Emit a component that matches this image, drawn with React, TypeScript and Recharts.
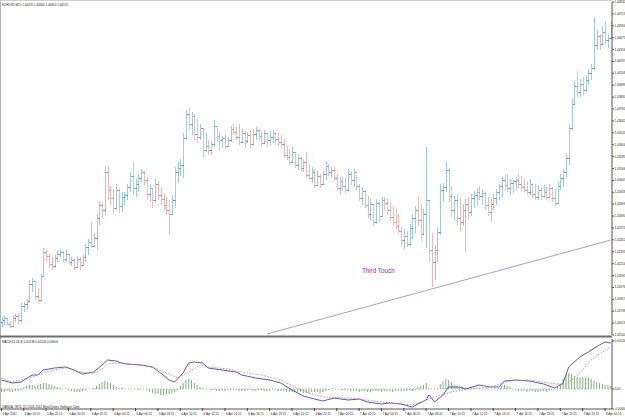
import { ComposedChart, Bar, Line, XAxis, YAxis, ReferenceLine, ReferenceDot } from 'recharts';

// EURUSD M15 bars, 5 Apr 18:15 -> 8 Apr 00:45
const opens = [
  1.4163, 1.4165, 1.4167, 1.4161, 1.4159, 1.4167, 1.4169, 1.4165, 1.4179, 1.4181,
  1.4184, 1.4201, 1.4204, 1.4189, 1.4185, 1.4209, 1.4233, 1.4229, 1.4221, 1.4219,
  1.4227, 1.4231, 1.4233, 1.4226, 1.4231, 1.4223, 1.4225, 1.4218, 1.4226, 1.4220,
  1.4228, 1.4238, 1.4243, 1.4239, 1.4247, 1.4267, 1.4280, 1.4275, 1.4313, 1.4295,
  1.4287, 1.4277, 1.4295, 1.4279, 1.4288, 1.4290, 1.4298, 1.4309, 1.4297, 1.4301,
  1.4307, 1.4313, 1.4305, 1.4291, 1.4297, 1.4285, 1.4301, 1.4290, 1.4286, 1.4280,
  1.4275, 1.4271, 1.4285, 1.4313, 1.4317, 1.4320, 1.4347, 1.4371, 1.4361, 1.4369,
  1.4351, 1.4348, 1.4357, 1.4335, 1.4339, 1.4335, 1.4341, 1.4359, 1.4349, 1.4345,
  1.4347, 1.4339, 1.4345, 1.4356, 1.4353, 1.4348, 1.4343, 1.4352, 1.4344, 1.4350,
  1.4341, 1.4351, 1.4355, 1.4349, 1.4342, 1.4352, 1.4345, 1.4348, 1.4352, 1.4346,
  1.4343, 1.4341, 1.4330, 1.4328, 1.4323, 1.4333, 1.4320, 1.4327, 1.4317, 1.4323,
  1.4310, 1.4307, 1.4313, 1.4300, 1.4309, 1.4301, 1.4311, 1.4319, 1.4313, 1.4315,
  1.4307, 1.4297, 1.4304, 1.4299, 1.4295, 1.4311, 1.4305, 1.4313, 1.4299, 1.4287,
  1.4294, 1.4280, 1.4271, 1.4281, 1.4263, 1.4282, 1.4269, 1.4285, 1.4282, 1.4275,
  1.4268, 1.4263, 1.4259, 1.4254, 1.4245, 1.4249, 1.4241, 1.4257, 1.4267, 1.4275,
  1.4265, 1.4251, 1.4271, 1.4285, 1.4235, 1.4223, 1.4235, 1.4253, 1.4295, 1.4298,
  1.4315, 1.4289, 1.4275, 1.4285, 1.4267, 1.4263, 1.4275, 1.4281, 1.4273, 1.4287,
  1.4290, 1.4293, 1.4289, 1.4292, 1.4280, 1.4273, 1.4281, 1.4287, 1.4293, 1.4299,
  1.4305, 1.4300, 1.4297, 1.4302, 1.4304, 1.4305, 1.4301, 1.4298, 1.4295, 1.4293,
  1.4301, 1.4291, 1.4288, 1.4295, 1.4289, 1.4293, 1.4288, 1.4297, 1.4287, 1.4282,
  1.4299, 1.4307, 1.4313, 1.4327, 1.4357, 1.4381, 1.4399, 1.4393, 1.4401, 1.4395,
  1.4405, 1.4412, 1.4417, 1.4440, 1.4449, 1.4441, 1.4453, 1.4445, 1.4447,
];

const highs = [
  1.4168, 1.4169, 1.4167, 1.4164, 1.4170, 1.4171, 1.4172, 1.4182, 1.4183, 1.4186,
  1.4205, 1.4207, 1.4202, 1.4197, 1.4211, 1.4237, 1.4236, 1.4231, 1.4228, 1.4230,
  1.4234, 1.4236, 1.4234, 1.4235, 1.4231, 1.4228, 1.4226, 1.4229, 1.4228, 1.4230,
  1.4241, 1.4246, 1.4263, 1.4251, 1.4271, 1.4284, 1.4283, 1.4318, 1.4319, 1.4299,
  1.4296, 1.4301, 1.4296, 1.4293, 1.4293, 1.4301, 1.4313, 1.4323, 1.4306, 1.4311,
  1.4316, 1.4314, 1.4308, 1.4301, 1.4296, 1.4306, 1.4304, 1.4298, 1.4291, 1.4288,
  1.4285, 1.4290, 1.4318, 1.4323, 1.4326, 1.4352, 1.4375, 1.4377, 1.4373, 1.4371,
  1.4366, 1.4361, 1.4356, 1.4352, 1.4345, 1.4344, 1.4365, 1.4357, 1.4353, 1.4349,
  1.4351, 1.4348, 1.4359, 1.4361, 1.4359, 1.4361, 1.4356, 1.4354, 1.4353, 1.4355,
  1.4356, 1.4358, 1.4356, 1.4354, 1.4355, 1.4351, 1.4354, 1.4355, 1.4351, 1.4352,
  1.4350, 1.4346, 1.4339, 1.4336, 1.4338, 1.4333, 1.4331, 1.4328, 1.4326, 1.4333,
  1.4321, 1.4318, 1.4316, 1.4314, 1.4311, 1.4314, 1.4324, 1.4321, 1.4318, 1.4318,
  1.4311, 1.4308, 1.4308, 1.4308, 1.4316, 1.4314, 1.4316, 1.4310, 1.4301, 1.4298,
  1.4296, 1.4289, 1.4286, 1.4281, 1.4286, 1.4283, 1.4288, 1.4288, 1.4287, 1.4283,
  1.4278, 1.4276, 1.4271, 1.4258, 1.4256, 1.4254, 1.4261, 1.4271, 1.4279, 1.4289,
  1.4281, 1.4276, 1.4338, 1.4285, 1.4252, 1.4240, 1.4257, 1.4301, 1.4302, 1.4323,
  1.4317, 1.4299, 1.4289, 1.4291, 1.4287, 1.4281, 1.4286, 1.4288, 1.4291, 1.4294,
  1.4297, 1.4299, 1.4296, 1.4293, 1.4288, 1.4286, 1.4291, 1.4296, 1.4301, 1.4308,
  1.4311, 1.4311, 1.4306, 1.4305, 1.4308, 1.4311, 1.4309, 1.4306, 1.4304, 1.4306,
  1.4301, 1.4301, 1.4299, 1.4298, 1.4300, 1.4298, 1.4301, 1.4298, 1.4296, 1.4303,
  1.4311, 1.4316, 1.4331, 1.4361, 1.4386, 1.4403, 1.4414, 1.4406, 1.4408, 1.4409,
  1.4416, 1.4421, 1.4468, 1.4455, 1.4451, 1.4458, 1.4464, 1.4451, 1.4463,
];

const lows = [
  1.4158, 1.4160, 1.4159, 1.4157, 1.4159, 1.4163, 1.4161, 1.4162, 1.4173, 1.4175,
  1.4182, 1.4193, 1.4185, 1.4182, 1.4184, 1.4209, 1.4223, 1.4217, 1.4215, 1.4217,
  1.4223, 1.4227, 1.4223, 1.4223, 1.4220, 1.4219, 1.4215, 1.4217, 1.4215, 1.4219,
  1.4223, 1.4230, 1.4237, 1.4239, 1.4235, 1.4260, 1.4267, 1.4270, 1.4285, 1.4280,
  1.4272, 1.4277, 1.4272, 1.4273, 1.4280, 1.4285, 1.4293, 1.4290, 1.4288, 1.4293,
  1.4303, 1.4300, 1.4285, 1.4283, 1.4277, 1.4282, 1.4285, 1.4280, 1.4275, 1.4270,
  1.4250, 1.4271, 1.4277, 1.4302, 1.4309, 1.4307, 1.4345, 1.4355, 1.4350, 1.4345,
  1.4342, 1.4345, 1.4328, 1.4333, 1.4330, 1.4330, 1.4338, 1.4343, 1.4335, 1.4337,
  1.4335, 1.4338, 1.4343, 1.4350, 1.4345, 1.4340, 1.4342, 1.4337, 1.4342, 1.4337,
  1.4340, 1.4345, 1.4345, 1.4338, 1.4341, 1.4338, 1.4340, 1.4342, 1.4340, 1.4339,
  1.4338, 1.4327, 1.4325, 1.4320, 1.4322, 1.4317, 1.4315, 1.4314, 1.4313, 1.4307,
  1.4305, 1.4302, 1.4297, 1.4299, 1.4297, 1.4301, 1.4305, 1.4309, 1.4307, 1.4304,
  1.4294, 1.4291, 1.4295, 1.4292, 1.4295, 1.4300, 1.4298, 1.4295, 1.4284, 1.4280,
  1.4277, 1.4267, 1.4264, 1.4259, 1.4261, 1.4263, 1.4269, 1.4274, 1.4270, 1.4264,
  1.4259, 1.4256, 1.4252, 1.4239, 1.4236, 1.4238, 1.4239, 1.4246, 1.4252, 1.4259,
  1.4244, 1.4251, 1.4237, 1.4223, 1.4198, 1.4205, 1.4223, 1.4250, 1.4283, 1.4293,
  1.4283, 1.4268, 1.4265, 1.4259, 1.4254, 1.4259, 1.4233, 1.4265, 1.4269, 1.4277,
  1.4280, 1.4285, 1.4280, 1.4275, 1.4269, 1.4264, 1.4275, 1.4280, 1.4285, 1.4288,
  1.4295, 1.4293, 1.4290, 1.4292, 1.4295, 1.4297, 1.4295, 1.4293, 1.4290, 1.4290,
  1.4287, 1.4285, 1.4285, 1.4285, 1.4287, 1.4285, 1.4288, 1.4283, 1.4279, 1.4281,
  1.4295, 1.4298, 1.4307, 1.4320, 1.4355, 1.4381, 1.4388, 1.4388, 1.4390, 1.4393,
  1.4400, 1.4405, 1.4415, 1.4435, 1.4435, 1.4439, 1.4440, 1.4437, 1.4445,
];

const closes = [
  1.4165, 1.4167, 1.4161, 1.4159, 1.4167, 1.4169, 1.4165, 1.4179, 1.4181, 1.4184,
  1.4201, 1.4204, 1.4189, 1.4185, 1.4209, 1.4233, 1.4229, 1.4221, 1.4219, 1.4227,
  1.4231, 1.4233, 1.4226, 1.4231, 1.4223, 1.4225, 1.4218, 1.4226, 1.4220, 1.4228,
  1.4238, 1.4243, 1.4239, 1.4247, 1.4267, 1.4280, 1.4275, 1.4313, 1.4295, 1.4287,
  1.4277, 1.4295, 1.4279, 1.4288, 1.4290, 1.4298, 1.4309, 1.4297, 1.4301, 1.4307,
  1.4313, 1.4305, 1.4291, 1.4297, 1.4285, 1.4301, 1.4290, 1.4286, 1.4280, 1.4275,
  1.4271, 1.4285, 1.4313, 1.4317, 1.4320, 1.4347, 1.4371, 1.4361, 1.4369, 1.4351,
  1.4348, 1.4357, 1.4335, 1.4339, 1.4335, 1.4341, 1.4359, 1.4349, 1.4345, 1.4347,
  1.4339, 1.4345, 1.4356, 1.4353, 1.4348, 1.4343, 1.4352, 1.4344, 1.4350, 1.4341,
  1.4351, 1.4355, 1.4349, 1.4342, 1.4352, 1.4345, 1.4348, 1.4352, 1.4346, 1.4343,
  1.4341, 1.4330, 1.4328, 1.4323, 1.4333, 1.4320, 1.4327, 1.4317, 1.4323, 1.4310,
  1.4307, 1.4313, 1.4300, 1.4309, 1.4301, 1.4311, 1.4319, 1.4313, 1.4315, 1.4307,
  1.4297, 1.4304, 1.4299, 1.4295, 1.4311, 1.4305, 1.4313, 1.4299, 1.4287, 1.4294,
  1.4280, 1.4271, 1.4281, 1.4263, 1.4282, 1.4269, 1.4285, 1.4282, 1.4275, 1.4268,
  1.4263, 1.4259, 1.4254, 1.4245, 1.4249, 1.4241, 1.4257, 1.4267, 1.4275, 1.4265,
  1.4251, 1.4271, 1.4285, 1.4235, 1.4223, 1.4235, 1.4253, 1.4295, 1.4298, 1.4315,
  1.4289, 1.4275, 1.4285, 1.4267, 1.4263, 1.4275, 1.4281, 1.4273, 1.4287, 1.4290,
  1.4293, 1.4289, 1.4292, 1.4280, 1.4273, 1.4281, 1.4287, 1.4293, 1.4299, 1.4305,
  1.4300, 1.4297, 1.4302, 1.4304, 1.4305, 1.4301, 1.4298, 1.4295, 1.4293, 1.4301,
  1.4291, 1.4288, 1.4295, 1.4289, 1.4293, 1.4288, 1.4297, 1.4287, 1.4282, 1.4299,
  1.4307, 1.4313, 1.4327, 1.4357, 1.4381, 1.4399, 1.4393, 1.4401, 1.4395, 1.4405,
  1.4412, 1.4417, 1.4440, 1.4449, 1.4441, 1.4453, 1.4445, 1.4447, 1.4457,
];

// MACD(12,26,9): main / signal read at [bar, value], histogram per bar
const macdMain = [
  [0, 0.00027], [4, 0.00018], [7, 0.00021], [11, 0.00042], [13, 0.00042], [15, 0.00057],
  [19, 0.00063], [23, 0.00066], [25, 0.0006], [29, 0.00045], [31, 0.00048], [33, 0.00051],
  [36, 0.00072], [38, 0.00087], [41, 0.00084], [43, 0.00078], [45, 0.00075], [50, 0.00072],
  [54, 0.00066], [57, 0.00048], [60, 0.00027], [62, 0.00021], [65, 0.00048], [67, 0.00078],
  [69, 0.00081], [72, 0.00078], [74, 0.00063], [79, 0.00057], [84, 0.00051], [86, 0.00042],
  [91, 0.00033], [96, 0.00027], [100, 0.00018], [104, -0.00003], [108, -0.00021], [112, -0.0003],
  [115, -0.00036], [119, -0.00027], [124, -0.00033], [128, -0.0003], [131, -0.00039], [136, -0.00045],
  [139, -0.00042], [143, -0.00045], [147, -0.00054], [149, -0.00045], [152, -0.00033], [153, -0.00018],
  [155, -0.00039], [158, -0.00018], [160, 0.00006], [164, 0.00006], [166, 0], [171, 0.00012],
  [175, 0.00006], [178, 0.00006], [180, 0.00024], [184, 0.00027], [189, 0.00024], [194, 0.00015],
  [198, 0.00003], [201, 0.00018], [203, 0.00066], [207, 0.00096], [210, 0.00111], [214, 0.00132],
  [216, 0.00141], [218, 0.00138],
];

const macdSignal = [
  [0, 0.00033], [4, 0.00021], [7, 0.00027], [11, 0.00036], [15, 0.00048], [19, 0.00057],
  [23, 0.00063], [26, 0.00057], [30, 0.00048], [33, 0.00048], [36, 0.0006], [38, 0.00075],
  [41, 0.00078], [45, 0.00075], [50, 0.00072], [55, 0.00063], [60, 0.00045], [63, 0.00033],
  [67, 0.00051], [71, 0.00072], [74, 0.00066], [81, 0.0006], [86, 0.00051], [93, 0.00042],
  [100, 0.00027], [105, 0.00006], [110, -0.00012], [115, -0.00024], [122, -0.00027], [125, -0.00027],
  [136, -0.00039], [147, -0.00048], [155, -0.00024], [161, -0.00009], [167, 0], [175, 0.00006],
  [182, 0.00024], [189, 0.00027], [196, 0.00018], [202, 0.00012], [207, 0.00048], [211, 0.00087],
  [215, 0.00111], [218, 0.00126],
];

const macdHist = [
  -0.00009, -0.00009, -0.00006, -0.00009, -0.00009, -0.00006, -0.00006, -0.00003,
  0.00006, 0.00009, 0.00012, 0.00012, 0.00009,
  0.00012, 0.00015, 0.00018, 0.00018, 0.00015, 0.00012, 0.00009,
  0.00006, 0.00003, 0, 0, -0.00003,
  -0.00006, -0.00009, -0.00009, -0.00009, -0.00006, -0.00003,
  0, 0, 0.00003,
  0.00009, 0.00015, 0.00021, 0.00024, 0.00021, 0.00018, 0.00012,
  0.00006, 0.00003, 0.00003, 0, 0, 0,
  0, 0, -0.00003, 0, 0, -0.00003,
  -0.00009, -0.00012, -0.00015, -0.00015, -0.00018, -0.00018, -0.00015, -0.00015, -0.00012, -0.00009,
  -0.00003,
  0.00009, 0.00018, 0.00027, 0.0003, 0.00027, 0.00018, 0.00012,
  0.00006, 0.00003, 0, 0, -0.00003,
  -0.00003, -0.00006, -0.00006, -0.00006, -0.00006, -0.00003, -0.00003,
  -0.00003, -0.00003, -0.00006, -0.00006, -0.00006, -0.00003, -0.00003, -0.00006, -0.00006,
  -0.00003, -0.00003, -0.00006, -0.00006, -0.00006, -0.00003, -0.00003, -0.00006,
  -0.00006, -0.00006, -0.00009, -0.00009, -0.00009, -0.00009, -0.00009, -0.00009,
  -0.00012, -0.00012, -0.00012, -0.00009, -0.00009, -0.00009, -0.00012, -0.00009,
  -0.00006, -0.00003, 0, 0, 0, 0, -0.00003, -0.00003, -0.00003,
  -0.00006, -0.00006, -0.00006, -0.00009, -0.00006, -0.00006, -0.00009, -0.00009, -0.00006, -0.00006,
  -0.00006, -0.00009, -0.00006, -0.00006, -0.00006, -0.00009, -0.00006, -0.00006, -0.00006, -0.00006,
  -0.00006,
  -0.00003, -0.00006, -0.00003,
  0.00006, 0.00009, 0.00012, 0.00018,
  0.00003, 0, 0, 0.00003,
  0.00015, 0.00024, 0.0003, 0.00027, 0.00021,
  0.00012, 0.00009, 0.00006, 0.00006, 0.00003, 0.00003, 0,
  0, 0, 0.00003, 0, 0, 0.00003, 0, 0, 0, 0.00003,
  0.00009, 0.00012, 0.00009, 0.00006,
  0, -0.00003, -0.00006, -0.00006, -0.00006, -0.00009, -0.00006, -0.00006, -0.00009, -0.00009,
  -0.00006, -0.00006, -0.00009, -0.00006, -0.00003,
  0, 0.00006, 0.00015, 0.0003,
  0.00042, 0.00048, 0.00045, 0.00039, 0.00036, 0.00033, 0.00036, 0.00033, 0.00036, 0.0003, 0.00024, 0.00021,
  0.00018, 0.00015, 0.00012, 0.00012, 0.00009,
];

const priceTicks = [
  1.415, 1.41619, 1.41738, 1.41857, 1.41976, 1.42095, 1.42214, 1.42333, 1.42452, 1.42571,
  1.4269, 1.42809, 1.42928, 1.43047, 1.43166, 1.43285, 1.43404, 1.43523, 1.43642, 1.43761,
  1.4388, 1.43999, 1.44118, 1.44237, 1.44356, 1.44475, 1.44594, 1.44713, 1.44832,
];
const macdTicks = [0.00144, 0, -0.0006];

const timeLabels = [
  '5 Apr 2011', '5 Apr 20:15', '5 Apr 22:15', '6 Apr 00:15', '6 Apr 02:15', '6 Apr 04:15',
  '6 Apr 06:15', '6 Apr 08:15', '6 Apr 10:15', '6 Apr 12:15', '6 Apr 14:15', '6 Apr 16:15',
  '6 Apr 18:15', '6 Apr 20:15', '6 Apr 22:15', '7 Apr 00:15', '7 Apr 02:15', '7 Apr 04:15',
  '7 Apr 06:15', '7 Apr 08:15', '7 Apr 10:15', '7 Apr 12:15', '7 Apr 14:15', '7 Apr 16:15',
  '7 Apr 18:15', '7 Apr 20:15', '7 Apr 22:15', '8 Apr 00:15',
];
const barsPerLabel = 8;

// trendline through the lows, and its note
const trendLine = [{ x: 95, y: 1.4151 }, { x: 218, y: 1.4245 }];
const noteBar = 129;
const notePrice = 1.4212;

const W = 625;
const FONT = '"Liberation Sans", Arial, sans-serif';
const UP = '#9ccaea';
const DOWN = '#eebab3';
const LABEL = 3;

const mainByBar: Record<number, number> = Object.fromEntries(macdMain);
const sigByBar: Record<number, number> = Object.fromEntries(macdSignal);

const bars = closes.map((c, i) => ({
  i,
  range: [lows[i], highs[i]],
  open: opens[i],
  high: highs[i],
  low: lows[i],
  close: c,
}));

const macdRows = closes.map((_, i) => ({
  i,
  hist: macdHist[i] ?? 0,
  main: mainByBar[i] ?? null,
  signal: sigByBar[i] ?? null,
}));

const timeTicks = timeLabels.map((_, n) => n * barsPerLabel);

function OhlcBar(props: any) {
  const { x, y, width, height, payload } = props;
  if (payload == null) return null;
  const top = Math.min(y, y + height);
  const h = Math.abs(height);
  const cx = Math.round(x + width / 2) + 0.5;
  const span = payload.high - payload.low || 1;
  const py = (v: number) => Math.round(top + ((payload.high - v) / span) * h) + 0.5;
  const up = payload.close >= payload.open;
  const color = up ? UP : DOWN;
  const tick = up ? '#6a9fc6' : '#d39a93';
  return (
    <g shapeRendering="crispEdges">
      <line x1={cx} x2={cx} y1={top} y2={top + Math.max(h, 1)} stroke={color} />
      <line x1={cx - 1.5} x2={cx} y1={py(payload.open)} y2={py(payload.open)} stroke={tick} />
      <line x1={cx} x2={cx + 1.5} y1={py(payload.close)} y2={py(payload.close)} stroke={tick} />
    </g>
  );
}

function TimeTick(props: any) {
  const { x, y, payload } = props;
  const label = timeLabels[Math.round(payload.value / barsPerLabel)];
  return (
    <g>
      <line x1={x} x2={x} y1={y - 1} y2={y + 2} stroke="#444" />
      <text x={x + 1} y={y + 6} fontSize={LABEL} fontFamily={FONT} fill="#222">
        {label}
      </text>
    </g>
  );
}

function PriceTick(props: any) {
  const { x, y, payload, formatter } = props;
  return (
    <text x={x - 0.5} y={y + 1} fontSize={LABEL} fontFamily={FONT} fill="#222">
      {formatter(payload.value)}
    </text>
  );
}

function NoteText(props: any) {
  return (
    <text x={props.cx} y={props.cy} fontSize={6.3} fontFamily={FONT} fill="#9c2a8c">
      Third Touch
    </text>
  );
}

const fmtPrice = (v: number) => v.toFixed(5);
const fmtMacd = (v: number) => (v === 0 ? '0.00' : v.toFixed(5));

export default function App() {
  const n = closes.length;
  const header = `EURUSD,M15  ${opens[n - 1].toFixed(5)} ${highs[n - 1].toFixed(5)} ${lows[n - 1].toFixed(5)} ${closes[n - 1].toFixed(5)}`;
  const macdHeader = `MACD(12,26,9) ${macdMain[macdMain.length - 1][1].toFixed(5)} ${macdSignal[macdSignal.length - 1][1].toFixed(5)} ${macdHist[n - 1].toFixed(5)}`;

  return (
    <div style={{ position: 'absolute', left: 0, top: 0, width: W, height: 417, background: '#fff' }}>
      <div style={{ position: 'absolute', left: 0, top: 0 }}>
        <ComposedChart width={W} height={337} data={bars} margin={{ top: 2, right: 0, bottom: 2, left: 0 }}>
          <XAxis dataKey="i" hide />
          <YAxis
            orientation="right"
            width={13}
            domain={[1.415, 1.44832]}
            allowDataOverflow
            ticks={priceTicks}
            interval={0}
            tickSize={2}
            tickMargin={1}
            tick={<PriceTick formatter={fmtPrice} />}
            axisLine={{ stroke: '#555' }}
            tickLine={{ stroke: '#555' }}
          />
          <Bar dataKey="range" barSize={1} shape={<OhlcBar />} isAnimationActive={false} />
          <ReferenceLine segment={trendLine} stroke="#a98bc2" strokeWidth={0.9} ifOverflow="visible" />
          <ReferenceDot x={noteBar} y={notePrice} r={0} shape={<NoteText />} ifOverflow="visible" />
        </ComposedChart>
      </div>

      <div style={{ position: 'absolute', left: 0, top: 337 }}>
        <ComposedChart width={W} height={80} data={macdRows} margin={{ top: 2, right: 0, bottom: 0, left: 0 }}>
          <XAxis
            dataKey="i"
            ticks={timeTicks}
            interval={0}
            height={8}
            tickSize={0}
            tickMargin={0}
            tick={<TimeTick />}
            axisLine={{ stroke: '#555' }}
          />
          <YAxis
            orientation="right"
            width={13}
            domain={[-0.0006, 0.0015]}
            allowDataOverflow
            ticks={macdTicks}
            interval={0}
            tickSize={2}
            tickMargin={1}
            tick={<PriceTick formatter={fmtMacd} />}
            axisLine={{ stroke: '#555' }}
            tickLine={{ stroke: '#555' }}
          />
          <ReferenceLine y={0} stroke="#9dbf9d" strokeDasharray="1 2" />
          <Bar dataKey="hist" barSize={1} fill="#79b179" isAnimationActive={false} />
          <Line dataKey="main" type="linear" stroke="#4545a8" strokeWidth={0.9} dot={false} connectNulls isAnimationActive={false} />
          <Line dataKey="signal" type="linear" stroke="#d88080" strokeWidth={0.9} strokeDasharray="1.5 1.5" dot={false} connectNulls isAnimationActive={false} />
        </ComposedChart>
      </div>

      <svg width={W} height={417} style={{ position: 'absolute', left: 0, top: 0, pointerEvents: 'none' }}>
        <line x1={0.5} x2={0.5} y1={0} y2={409} stroke="#b5b5b5" />
        <line x1={0} x2={612} y1={0.5} y2={0.5} stroke="#cfcfcf" />
        <line x1={0} x2={612} y1={336.5} y2={336.5} stroke="#6e6e6e" strokeWidth={2} />
        <text x={2} y={5.5} fontSize={LABEL} fontFamily={FONT} fill="#222">{header}</text>
        <text x={2} y={342.5} fontSize={LABEL} fontFamily={FONT} fill="#222">{macdHeader}</text>
        <text x={2} y={408} fontSize={LABEL} fontFamily={FONT} fill="#222">
          OANDA - MT4, (C) 2001-2011 MetaQuotes Software Corp.
        </text>
      </svg>
    </div>
  );
}
